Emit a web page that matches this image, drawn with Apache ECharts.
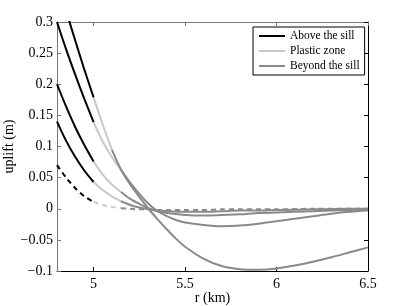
<!DOCTYPE html>
<html>
<head>
<meta charset="utf-8">
<script src="https://cdn.jsdelivr.net/npm/echarts@6/dist/echarts.min.js"></script>
<style>
html,body{margin:0;padding:0;background:#fff;}
#chart{width:407px;height:306px;}
</style>
</head>
<body>
<div id="chart"></div>
<script>
// ---- data ----
const seriesNames = ['Above the sill', 'Plastic zone', 'Beyond the sill'];
const xTickValues = [5, 5.5, 6, 6.5];

const rAbove = [4.8, 4.85, 4.9, 4.95, 5.0];

// curve 1 (largest)
const c1Above = [0.37, 0.318, 0.27, 0.223, 0.179];
const c1PlasticR = [5.0, 5.05, 5.1];
const c1Plastic = [0.179, 0.135, 0.095];
const c1BeyondR = [5.1, 5.15, 5.2, 5.25, 5.3, 5.35, 5.4, 5.45, 5.5, 5.6, 5.7, 5.8, 5.9, 6.0, 6.1, 6.2, 6.3, 6.4, 6.5];
const c1Beyond = [0.095, 0.063, 0.039, 0.019, 0.0, -0.017, -0.033, -0.048, -0.061, -0.08, -0.092, -0.097, -0.098, -0.096, -0.091, -0.085, -0.078, -0.07, -0.062];

// curve 2
const c2Above = [0.3, 0.256, 0.215, 0.176, 0.139];
const c2PlasticR = [5.0, 5.05, 5.1, 5.15];
const c2Plastic = [0.139, 0.108, 0.083, 0.062];
const c2BeyondR = [5.15, 5.2, 5.25, 5.3, 5.35, 5.4, 5.45, 5.5, 5.6, 5.7, 5.8, 5.9, 6.0, 6.1, 6.2, 6.3, 6.4, 6.5];
const c2Beyond = [0.062, 0.042, 0.024, 0.008, -0.004, -0.012, -0.018, -0.022, -0.026, -0.028, -0.027, -0.024, -0.02, -0.016, -0.012, -0.008, -0.005, -0.003];

// curve 3
const c3Above = [0.2, 0.164, 0.131, 0.102, 0.076];
const c3PlasticR = [5.0, 5.05, 5.1, 5.15];
const c3Plastic = [0.076, 0.055, 0.039, 0.027];
const c3BeyondR = [5.15, 5.2, 5.25, 5.3, 5.35, 5.4, 5.5, 5.6, 5.7, 5.8, 5.9, 6.0, 6.2, 6.4, 6.5];
const c3Beyond = [0.027, 0.016, 0.008, 0.001, -0.004, -0.007, -0.01, -0.011, -0.01, -0.009, -0.007, -0.006, -0.004, -0.002, -0.001];

// curve 4
const c4Above = [0.14, 0.109, 0.083, 0.061, 0.043];
const c4PlasticR = [5.0, 5.05, 5.1, 5.15];
const c4Plastic = [0.043, 0.03, 0.02, 0.012];
const c4BeyondR = [5.15, 5.2, 5.25, 5.3, 5.35, 5.4, 5.5, 5.6, 5.7, 5.8, 5.9, 6.0, 6.2, 6.4, 6.5];
const c4Beyond = [0.012, 0.006, 0.002, -0.001, -0.003, -0.004, -0.005, -0.005, -0.004, -0.003, -0.003, -0.002, -0.001, 0, 0];

// curve 5 (dashed)
const c5Above = [0.07, 0.05, 0.033, 0.02, 0.011];
const c5PlasticR = [5.0, 5.05, 5.1, 5.15];
const c5Plastic = [0.011, 0.006, 0.003, 0.001];
const c5BeyondR = [5.15, 5.2, 5.25, 5.3, 5.35, 5.4, 5.5, 5.6, 5.7, 5.8, 5.9, 6.0, 6.2, 6.4, 6.5];
const c5Beyond = [0.001, 0.0, -0.001, -0.001, -0.002, -0.002, -0.002, -0.002, -0.001, -0.001, -0.001, -0.001, 0, 0, 0];

// ---- styling ----
const colors = ['#000000', '#c8c8c8', '#8a8a8a'];
const FONT = 'Liberation Serif';

function pairs(xs, ys) { return xs.map((x, i) => [x, ys[i]]); }
function seg(kind, xs, ys, dashed) {
  return {
    type: 'line', name: seriesNames[kind], data: pairs(xs, ys),
    symbol: 'none', smooth: 0.3, clip: true,
    lineStyle: { color: colors[kind], width: 2, type: dashed ? [5, 4] : 'solid' },
    itemStyle: { color: colors[kind] },
    z: kind === 0 ? 3 : 2
  };
}

const curves = [
  [c1Above, c1PlasticR, c1Plastic, c1BeyondR, c1Beyond, false],
  [c2Above, c2PlasticR, c2Plastic, c2BeyondR, c2Beyond, false],
  [c3Above, c3PlasticR, c3Plastic, c3BeyondR, c3Beyond, false],
  [c4Above, c4PlasticR, c4Plastic, c4BeyondR, c4Beyond, false],
  [c5Above, c5PlasticR, c5Plastic, c5BeyondR, c5Beyond, true]
];
const series = [];
curves.forEach(c => series.push(seg(0, rAbove, c[0], c[5])));
curves.forEach(c => series.push(seg(1, c[1], c[2], c[5])));
curves.forEach(c => series.push(seg(2, c[3], c[4], c[5])));

function yFmt(v) {
  const n = Number(v.toFixed(2));
  return n < 0 ? '\u2212' + String(-n) : String(n);
}

const chart = echarts.init(document.getElementById('chart'), null, { renderer: 'canvas' });
chart.setOption({
  animation: false,
  backgroundColor: '#ffffff',
  grid: { left: 57, right: 39, top: 22, bottom: 35, containLabel: false, outerBoundsMode: 'none' },
  legend: {
    data: seriesNames, orient: 'vertical', left: 253, top: 27,
    icon: 'rect',
    borderColor: '#000', borderWidth: 1, padding: [3, 5, 3, 6],
    itemWidth: 26, itemHeight: 2, itemGap: 3,
    textStyle: { fontFamily: FONT, fontSize: 11.5, color: '#000', lineHeight: 12 },
    backgroundColor: '#fff'
  },
  xAxis: [{
    type: 'value', min: 4.8, max: 6.5, position: 'bottom',
    name: 'r (km)', nameLocation: 'middle', nameGap: 20, nameMoveOverlap: false,
    nameTextStyle: { fontFamily: FONT, fontSize: 14, color: '#000' },
    axisLine: { onZero: false, lineStyle: { color: '#000', width: 1 } },
    axisTick: { inside: true, length: 4, customValues: xTickValues, lineStyle: { color: '#000' } },
    axisLabel: { customValues: xTickValues, fontFamily: FONT, fontSize: 14, color: '#000', margin: 6 },
    splitLine: { show: false }
  }, {
    type: 'value', min: 4.8, max: 6.5, position: 'top',
    axisLine: { onZero: false, lineStyle: { color: '#777', width: 1 } },
    axisTick: { inside: true, length: 4, customValues: xTickValues, lineStyle: { color: '#777' } },
    axisLabel: { show: false }, splitLine: { show: false }
  }],
  yAxis: [{
    type: 'value', min: -0.1, max: 0.3, interval: 0.05, position: 'left',
    name: 'uplift (m)', nameLocation: 'middle', nameGap: 41, nameMoveOverlap: false,
    nameTextStyle: { fontFamily: FONT, fontSize: 14, color: '#000' },
    axisLine: { show: true, onZero: false, lineStyle: { color: '#777', width: 1 } },
    axisTick: { show: true, inside: true, length: 4, lineStyle: { color: '#777' } },
    axisLabel: { formatter: yFmt, fontFamily: FONT, fontSize: 14, color: '#000', margin: 4 },
    splitLine: { show: false }
  }, {
    type: 'value', min: -0.1, max: 0.3, interval: 0.05, position: 'right',
    axisLine: { show: true, onZero: false, lineStyle: { color: '#000', width: 1 } },
    axisTick: { show: true, inside: true, length: 4, lineStyle: { color: '#000' } },
    axisLabel: { show: false }, splitLine: { show: false }
  }],
  series: series
});
</script>
</body>
</html>
